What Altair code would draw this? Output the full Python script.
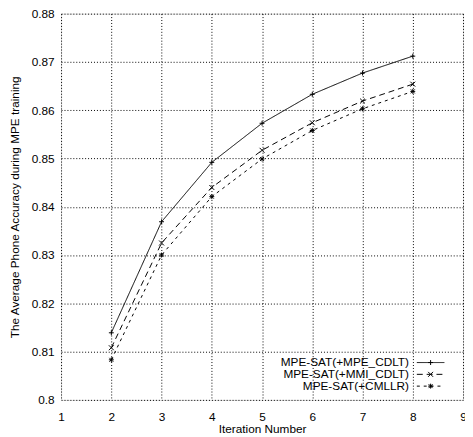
import altair as alt
import pandas as pd

# ---- data ----
iterations = [2, 3, 4, 5, 6, 7, 8]
mpe_cdlt = [0.8139, 0.8369, 0.8492, 0.8573, 0.8633, 0.8677, 0.8712]
mmi_cdlt = [0.8108, 0.8325, 0.8440, 0.8517, 0.8574, 0.8619, 0.8654]
cmllr = [0.8083, 0.8300, 0.8421, 0.8499, 0.8558, 0.8603, 0.8639]
series_names = ["MPE-SAT(+MPE_CDLT)", "MPE-SAT(+MMI_CDLT)", "MPE-SAT(+CMLLR)"]
x_ticks = [1, 2, 3, 4, 5, 6, 7, 8, 9]
y_ticks = [0.80, 0.81, 0.82, 0.83, 0.84, 0.85, 0.86, 0.87, 0.88]

FONT = "Liberation Sans"
dashes = [[1, 0], [6, 4], [3, 4]]
plus = "M-1,0L1,0M0,-1L0,1"
cross = "M-1,-1L1,1M-1,1L1,-1"
star = "M-1,0L1,0M0,-1L0,1M-0.8,-0.8L0.8,0.8M-0.8,0.8L0.8,-0.8"
shapes = [plus, cross, star]

rows = []
for name, vals in zip(series_names, [mpe_cdlt, mmi_cdlt, cmllr]):
    for it, v in zip(iterations, vals):
        rows.append({"iteration": it, "accuracy": v, "series": name})
df = pd.DataFrame(rows)

x_enc = alt.X(
    "iteration:Q",
    scale=alt.Scale(domain=[1, 9], nice=False, zero=False),
    axis=alt.Axis(values=x_ticks, format="d", title="Iteration Number",
                  grid=True, gridDash=[1, 2], gridColor="#000", gridOpacity=1,
                  ticks=False, domain=False, labelPadding=12, titlePadding=1,
                  labelFontSize=12, titleFontSize=12, labelFont=FONT, titleFont=FONT,
                  titleFontWeight="normal", labelColor="#000", titleColor="#000",
                  labelFlush=False, labelOverlap=False),
)
y_enc = alt.Y(
    "accuracy:Q",
    scale=alt.Scale(domain=[0.80, 0.88], nice=False, zero=False),
    axis=alt.Axis(values=y_ticks, format=".2~f",
                  title="The Average Phone Accuracy during MPE training",
                  grid=True, gridDash=[1, 2], gridColor="#000", gridOpacity=1,
                  ticks=False, domain=False, labelPadding=7, titlePadding=10,
                  labelFontSize=12, titleFontSize=12, labelFont=FONT, titleFont=FONT,
                  titleFontWeight="normal", labelColor="#000", titleColor="#000",
                  labelFlush=False, labelOverlap=False),
)

base = alt.Chart(df)
lines = base.mark_line(color="#000", strokeWidth=1).encode(
    x=x_enc, y=y_enc,
    strokeDash=alt.StrokeDash("series:N", scale=alt.Scale(domain=series_names, range=dashes), legend=None),
    detail="series:N",
)
points = base.mark_point(color="#000", filled=False, strokeWidth=1, size=25, opacity=1).encode(
    x="iteration:Q", y="accuracy:Q",
    shape=alt.Shape("series:N", scale=alt.Scale(domain=series_names, range=shapes), legend=None),
)

layers = [lines, points]
# manual legend, bottom right inside plot (gnuplot style: label left, sample right)
for i, name in enumerate(series_names):
    yy = 355 + 12 * i
    one = alt.Chart(pd.DataFrame({"label": [name]}))
    layers.append(one.mark_text(align="right", baseline="middle", fontSize=12, font=FONT, color="#000").encode(
        text="label:N", x=alt.value(354), y=alt.value(yy)))
    layers.append(one.mark_rule(color="#000", strokeWidth=1, strokeDash=dashes[i]).encode(
        x=alt.value(362), x2=alt.value(390), y=alt.value(yy)))
    layers.append(one.mark_point(color="#000", filled=False, strokeWidth=1, size=25, shape=shapes[i], opacity=1).encode(
        x=alt.value(376), y=alt.value(yy)))

chart = alt.layer(*layers).properties(
    width=409, height=393,
    autosize=alt.AutoSizeParams(type="none"),
    padding={"left": 54, "top": 2, "right": 2, "bottom": 34},
).configure_view(stroke="#000", strokeWidth=1).configure(background="white")

chart.save("out.html", embed_options={"renderer": "svg", "actions": False})
